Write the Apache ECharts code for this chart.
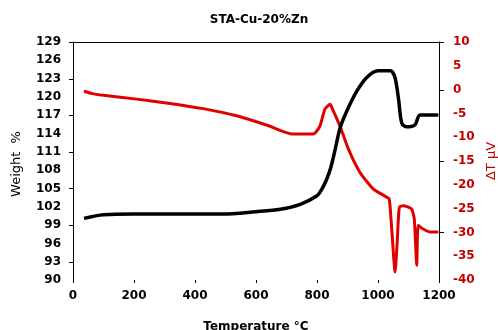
<!DOCTYPE html>
<html>
<head>
<meta charset="utf-8">
<script src="https://cdn.jsdelivr.net/npm/echarts@6/dist/echarts.min.js"></script>
<style>
  html, body { margin: 0; padding: 0; background: #fff; }
  #chart { width: 498px; height: 330px; }
</style>
</head>
<body>
<div id="chart"></div>
<script>
// Thermogravimetric (weight) and DTA (ΔT) traces for the Cu-20%Zn sample
const weightTemp = [36, 100, 200, 320, 490, 600, 680, 745, 800, 815, 830, 845, 860, 875, 897, 930, 963, 1000, 1040, 1055, 1067, 1078, 1094, 1121, 1138, 1198];
const weightPct  = [100.1, 100.7, 100.8, 100.8, 100.8, 101.2, 101.6, 102.4, 103.8, 104.8, 106.3, 108.4, 111.5, 114.8, 117.6, 120.9, 123.2, 124.3, 124.3, 123.3, 119.8, 115.7, 115.1, 115.4, 117.05, 117.05];

const dtaTemp = [36, 60, 100, 209, 318, 427, 536, 646, 680, 722, 788, 810, 826, 843, 853, 875, 903, 941, 985, 1029, 1037, 1045, 1056, 1063, 1070, 1083, 1110, 1119, 1127, 1132, 1148, 1170, 1198];
const dtaUV   = [-0.3, -0.8, -1.2, -2.0, -2.9, -4.0, -5.5, -7.7, -8.6, -9.35, -9.35, -7.6, -4.1, -3.1, -4.4, -7.6, -12.5, -17.4, -20.9, -22.6, -23.0, -29.3, -38.3, -32.0, -24.7, -24.4, -25.1, -27.2, -36.9, -28.5, -29.3, -29.9, -29.9];

// Major tick positions (labels are drawn every 3 % / 5 µV, ticks less often)
const weightTicks = [93, 99, 105, 111, 117, 123, 129];
const dtaTicks = [10, 0, -15, -30];

const T_MIN = 0, T_MAX = 1200;
const FONT = 'DejaVu Sans';
const RED = '#e00000';
const DARK_RED = '#c00000';

const pairs = (xs, ys) => xs.map((x, i) => [x, ys[i]]);

// short outward tick marks on a vertical axis edge, placed through the axis scale
function tickSeries(xValue, values, yAxisIndex, len, dir) {
  return {
    type: 'custom', yAxisIndex, silent: true, clip: false, z: 5,
    data: values.map(v => [xValue, v]),
    encode: { x: 0, y: 1 },
    renderItem: (params, api) => {
      const p = api.coord([api.value(0), api.value(1)]);
      const y = Math.round(p[1]) + 0.5;
      const x = Math.round(p[0]);
      return {
        type: 'line',
        shape: { x1: x, y1: y, x2: x + dir * len, y2: y },
        style: { stroke: '#000', lineWidth: 1 }
      };
    }
  };
}

const chart = echarts.init(document.getElementById('chart'));
chart.setOption({
  animation: false,
  title: {
    text: 'STA-Cu-20%Zn',
    left: 254, top: 9, textAlign: 'center',
    textStyle: { fontFamily: FONT, fontSize: 12, fontWeight: 'bold', color: '#000' }
  },
  grid: { left: 73, right: 59, top: 42, bottom: 50, outerBoundsMode: 'none', containLabel: false },
  xAxis: [{
    type: 'value', min: T_MIN, max: T_MAX, interval: 200,
    name: 'Temperature °C', nameLocation: 'middle', nameGap: 41,
    nameTextStyle: { fontFamily: FONT, fontSize: 12, fontWeight: 'bold', color: '#000' },
    axisLine: { show: false, onZero: false },
    axisTick: { show: true, length: 3, lineStyle: { color: '#000' } },
    axisLabel: { margin: 10, fontFamily: FONT, fontSize: 12, fontWeight: 'bold', color: '#000',
                 formatter: v => String(v) },
    splitLine: { show: false }
  }, {
    type: 'value', min: T_MIN, max: T_MAX, position: 'top',
    axisLine: { show: true, onZero: false, lineStyle: { color: '#000', width: 1 } },
    axisTick: { show: false }, axisLabel: { show: false }, splitLine: { show: false }
  }],
  yAxis: [{
    type: 'value', min: 90, max: 129, interval: 3, position: 'left',
    name: 'Weight  %', nameLocation: 'middle', nameGap: 50, nameRotate: 90,
    nameTextStyle: { fontFamily: FONT, fontSize: 13, color: '#000', padding: [0, 6, 0, 0] },
    axisLine: { show: true, onZero: false, lineStyle: { color: '#000', width: 1 } },
    axisTick: { show: false },
    axisLabel: { margin: 12, fontFamily: FONT, fontSize: 12, fontWeight: 'bold', color: '#000' },
    splitLine: { show: false }
  }, {
    type: 'value', min: -40, max: 10, interval: 5, position: 'right',
    name: 'ΔT μV', nameLocation: 'middle', nameGap: 45, nameRotate: 90,
    nameTextStyle: { fontFamily: FONT, fontSize: 13, color: DARK_RED },
    axisLine: { show: true, onZero: false, lineStyle: { color: '#000', width: 1 } },
    axisTick: { show: false },
    axisLabel: { margin: 14, fontFamily: FONT, fontSize: 12, fontWeight: 'bold', color: DARK_RED },
    splitLine: { show: false }
  }],
  series: [
    {
      name: 'ΔT', type: 'line', yAxisIndex: 1,
      data: pairs(dtaTemp, dtaUV),
      smooth: 0.2, showSymbol: false,
      lineStyle: { color: RED, width: 3 }
    },
    {
      name: 'Weight', type: 'line', yAxisIndex: 0,
      data: pairs(weightTemp, weightPct),
      smooth: 0.3, showSymbol: false,
      lineStyle: { color: '#000', width: 3.5 }
    },
    tickSeries(T_MIN, weightTicks, 0, 4, -1),
    tickSeries(T_MAX, dtaTicks, 1, 5, 1)
  ]
});
</script>
</body>
</html>
